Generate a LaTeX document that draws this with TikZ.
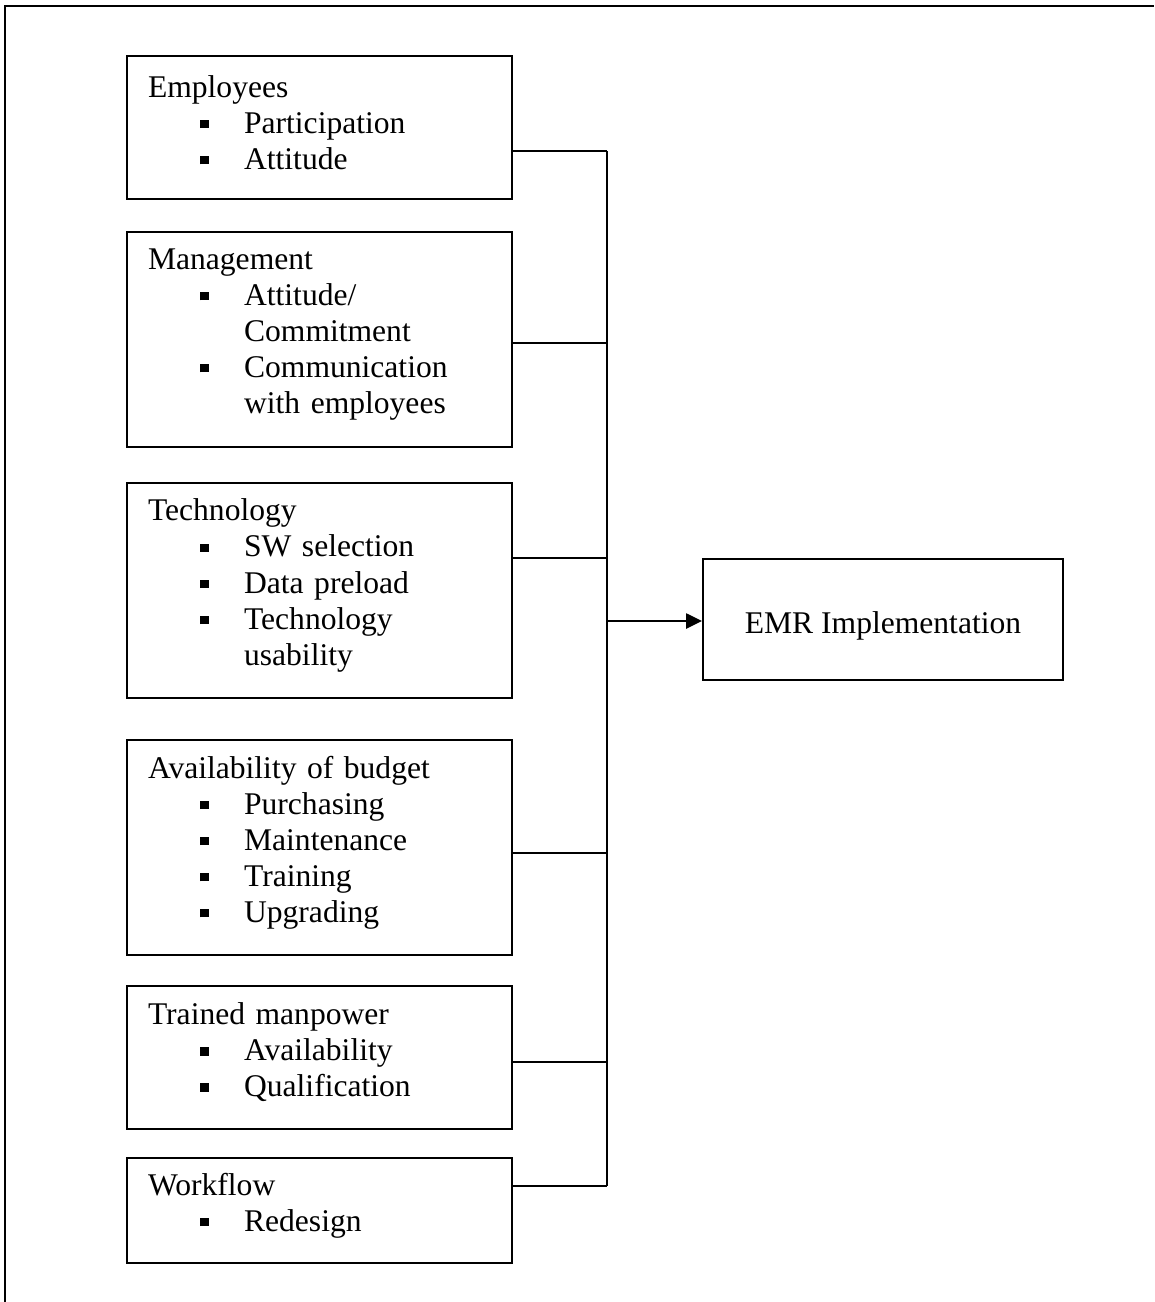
\documentclass[tikz,border=0pt]{standalone}
\usepackage{fontspec}
\setmainfont{Liberation Serif}
\usetikzlibrary{arrows.meta}

\newcommand{\bitem}[1]{\makebox[36.5pt][l]{\hspace*{19.8pt}\rule[1.9pt]{3.2pt}{3.2pt}}#1}
\newcommand{\bcont}[1]{\hspace*{36.5pt}#1}

\tikzset{
  factor/.style={draw,line width=0.75pt,anchor=north west,inner xsep=8pt,inner ysep=0pt,
    text width=130.3pt,align=left,font=\fontsize{12}{13.7}\selectfont,
    execute at end node={\par\vspace*{3.8pt}}},
  result/.style={draw,line width=0.75pt,anchor=north west,minimum width=136.8pt,
    minimum height=46pt,text height=11pt,text depth=0pt,font=\fontsize{12}{13.7}\selectfont},
  link/.style={line width=0.75pt}
}

\begin{document}
\begin{tikzpicture}[x=0.38pt,y=-0.38pt]
\useasboundingbox (0,0) rectangle (1154,1302);

%outer frame
\draw[link] (5,1302) -- (5,6) -- (1154,6);

%factor boxes
\node[factor,minimum height=54.3pt] (emp) at (126,55)
  {Employees\\\bitem{Participation}\\\bitem{Attitude}};
\node[factor,minimum height=81.7pt] (mgmt) at (126,231)
  {Management\\\bitem{Attitude/}\\\bcont{Commitment}\\\bitem{Communication}\\\bcont{with employees}};
\node[factor,minimum height=81.7pt] (tech) at (126,482)
  {Technology\\\bitem{SW selection}\\\bitem{Data preload}\\\bitem{Technology}\\\bcont{usability}};
\node[factor,minimum height=81.7pt] (budget) at (126,739)
  {Availability of budget\\\bitem{Purchasing}\\\bitem{Maintenance}\\\bitem{Training}\\\bitem{Upgrading}};
\node[factor,minimum height=54.3pt] (man) at (126,985)
  {Trained manpower\\\bitem{Availability}\\\bitem{Qualification}};
\node[factor,minimum height=39.9pt] (flow) at (126,1157)
  {Workflow\\\bitem{Redesign}};

%result box
\node[result] (emr) at (702,558) {EMR Implementation};

%bus points
\coordinate (b1) at (607,151);
\coordinate (b2) at (607,343);
\coordinate (b3) at (607,558);
\coordinate (b4) at (607,853);
\coordinate (b5) at (607,1062);
\coordinate (b6) at (607,1186);
\coordinate (bm) at (607,621);

\draw[link] (emp.east |- b1) -- (b1);
\draw[link] (mgmt.east |- b2) -- (b2);
\draw[link] (tech.east |- b3) -- (b3);
\draw[link] (budget.east |- b4) -- (b4);
\draw[link] (man.east |- b5) -- (b5);
\draw[link] (flow.east |- b6) -- (b6);
\draw[link] (b1) -- (b6); %bus

\draw[link,-{Triangle[length=6pt,width=5.7pt]}] (bm) -- (emr.west |- bm);
\end{tikzpicture}
\end{document}
